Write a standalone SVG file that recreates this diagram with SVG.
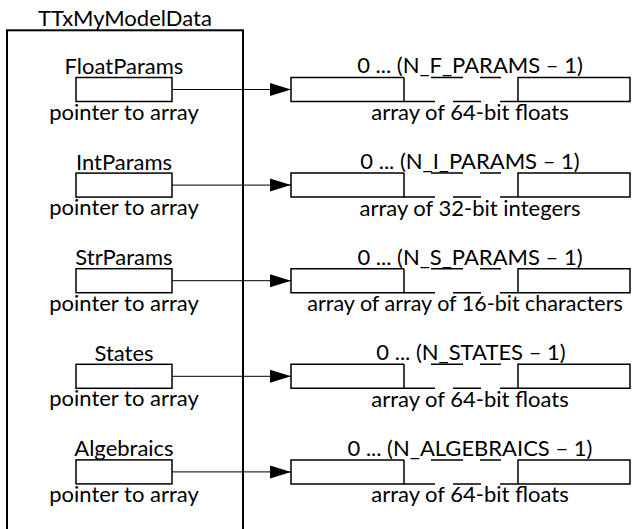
<svg xmlns="http://www.w3.org/2000/svg" xmlns:xlink="http://www.w3.org/1999/xlink" width="634" height="529" viewBox="0 0 634 529">
  <style>
    text { font-family: Lato, "Open Sans", "Liberation Sans", sans-serif; font-size: 22px; fill: #000; text-anchor: middle; }
    .edge { fill: none; stroke: #000; stroke-width: 1.5; }
    .frame { fill: none; stroke: #000; stroke-width: 2; }
    .ptr { fill: #fff; stroke: #000; stroke-width: 1.5; }
    .link { fill: none; stroke: #000; stroke-width: 1; marker-end: url(#arrow); }
  </style>
  <defs>
    <marker id="arrow" markerUnits="userSpaceOnUse" viewBox="0 0 22 14" markerWidth="22" markerHeight="14" refX="21" refY="7" orient="auto">
      <path d="M0,0.5 L21,7 L0,13.5 z" fill="#000"/>
    </marker>
    <!-- array cell strip: solid ends, broken edges in the middle for the elided elements -->
    <g id="array-shape">
      <path class="edge" d="M404,0 H291 V24 H404 V0 M518,24 V0 H630 V24 H518"/>
      <path class="edge" d="M431,0 H463 M480,0 H501 M404,24 H435 M453,24 H481 M500,24 H518"/>
    </g>
    <rect id="pointer-box" class="ptr" x="76" y="0" width="96" height="24"/>
  </defs>

  <!-- record container -->
  <g id="model-data">
    <rect class="frame" x="7" y="30.3" width="236" height="520"/>
    <text x="125" y="25.5">TTxMyModelData</text>
  </g>

  <!-- pointer fields -->
  <g id="field-FloatParams">
    <text x="124" y="74">FloatParams</text>
    <use xlink:href="#pointer-box" y="77.5"/>
    <text x="124" y="119.5">pointer to array</text>
  </g>
  <g id="field-IntParams">
    <text x="124" y="169.6">IntParams</text>
    <use xlink:href="#pointer-box" y="173.1"/>
    <text x="124" y="215.1">pointer to array</text>
  </g>
  <g id="field-StrParams">
    <text x="124" y="265.2">StrParams</text>
    <use xlink:href="#pointer-box" y="268.7"/>
    <text x="124" y="310.7">pointer to array</text>
  </g>
  <g id="field-States">
    <text x="124" y="360.8">States</text>
    <use xlink:href="#pointer-box" y="364.3"/>
    <text x="124" y="406.3">pointer to array</text>
  </g>
  <g id="field-Algebraics">
    <text x="124" y="456.4">Algebraics</text>
    <use xlink:href="#pointer-box" y="459.9"/>
    <text x="124" y="501.9">pointer to array</text>
  </g>

  <!-- target arrays -->
  <g id="array-FloatParams">
    <text x="470" y="73.3">0 ... (N_F_PARAMS – 1)</text>
    <use xlink:href="#array-shape" y="77.5"/>
    <text x="470" y="120">array of 64-bit floats</text>
  </g>
  <g id="array-IntParams">
    <text x="470" y="168.9">0 ... (N_I_PARAMS – 1)</text>
    <use xlink:href="#array-shape" y="173.1"/>
    <text x="470" y="215.6">array of 32-bit integers</text>
  </g>
  <g id="array-StrParams">
    <text x="470" y="264.5">0 ... (N_S_PARAMS – 1)</text>
    <use xlink:href="#array-shape" y="268.7"/>
    <text x="465" y="311.2" style="font-size:21.5px">array of array of 16-bit characters</text>
  </g>
  <g id="array-States">
    <text x="471" y="360.1">0 ... (N_STATES – 1)</text>
    <use xlink:href="#array-shape" y="364.3"/>
    <text x="470" y="406.8">array of 64-bit floats</text>
  </g>
  <g id="array-Algebraics">
    <text x="470" y="455.7">0 ... (N_ALGEBRAICS – 1)</text>
    <use xlink:href="#array-shape" y="459.9"/>
    <text x="470" y="502.4">array of 64-bit floats</text>
  </g>

  <!-- pointer connectors -->
  <g id="connectors">
    <path class="link" d="M172,89.5 H291"/>
    <path class="link" d="M172,185.1 H291"/>
    <path class="link" d="M172,280.7 H291"/>
    <path class="link" d="M172,376.3 H291"/>
    <path class="link" d="M172,471.9 H291"/>
  </g>
</svg>
